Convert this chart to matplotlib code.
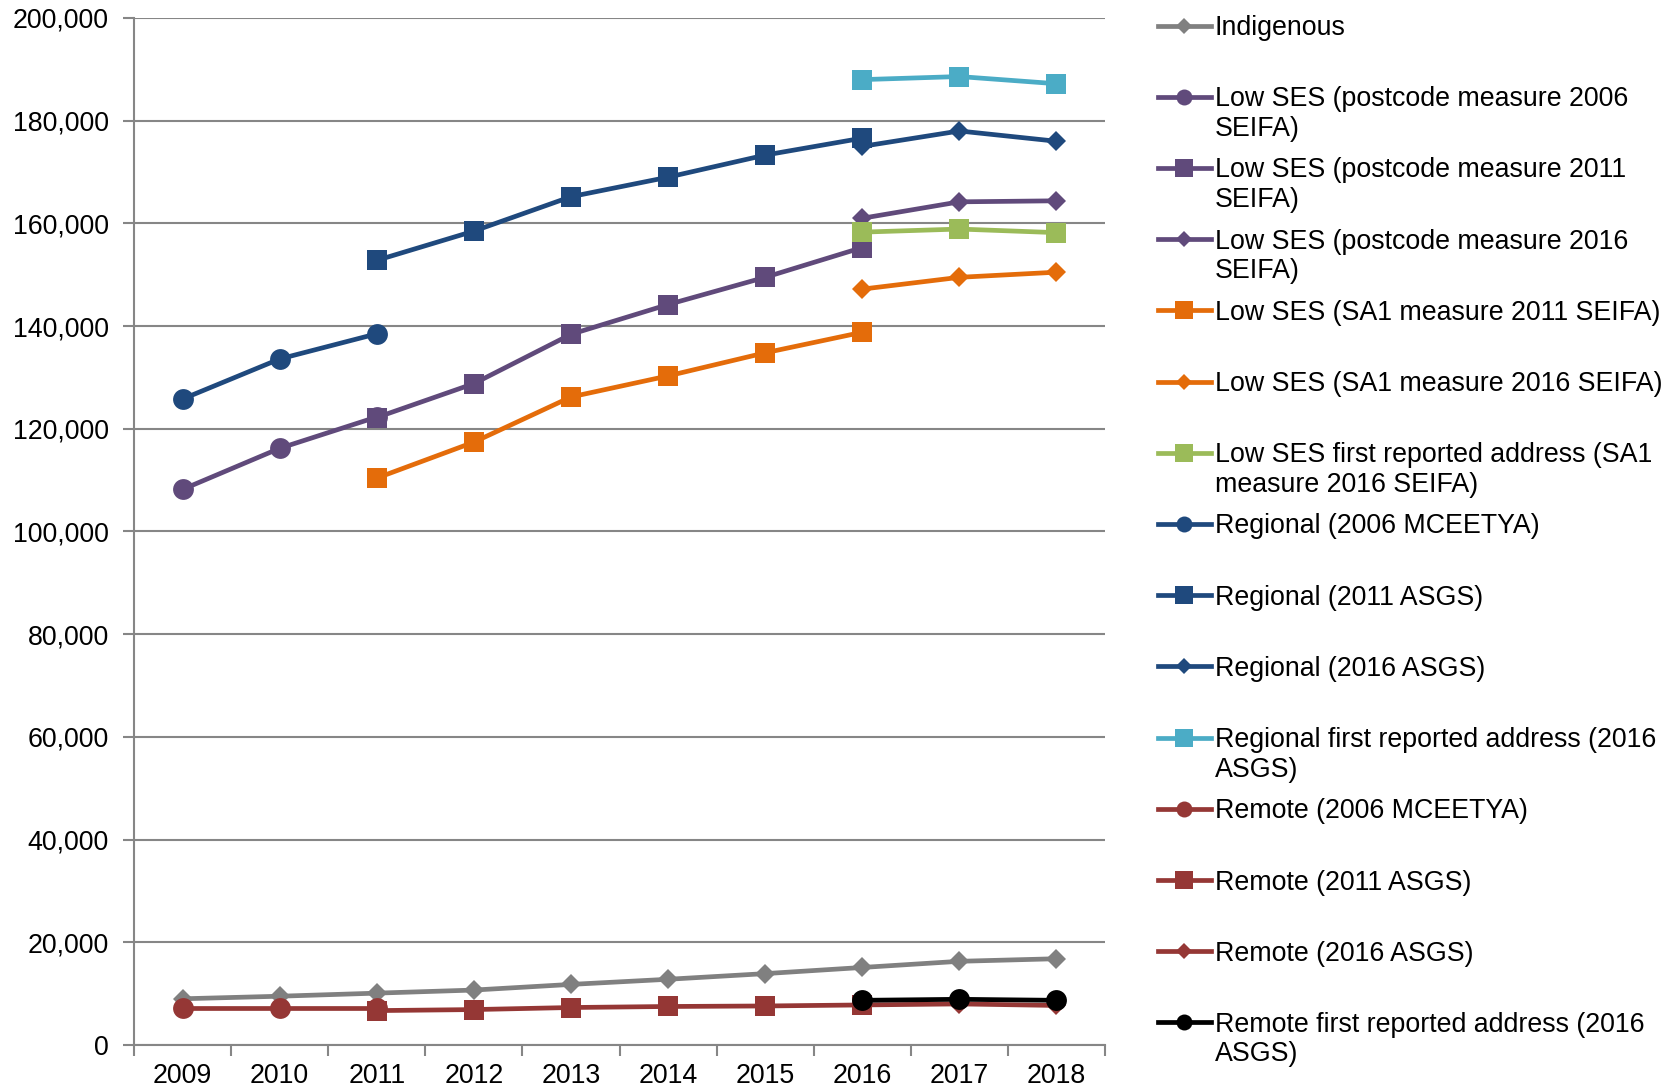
import matplotlib
matplotlib.use('Agg')
import matplotlib.pyplot as plt
from matplotlib.lines import Line2D
from matplotlib.ticker import FuncFormatter, FixedLocator
import numpy as np

plt.rcParams['font.family'] = ['Liberation Sans', 'DejaVu Sans']

years = ['2009', '2010', '2011', '2012', '2013', '2014', '2015', '2016', '2017', '2018']

# values per series, None where no data
indigenous = [9000, 9500, 10100, 10700, 11800, 12800, 13900, 15100, 16300, 16800]
lowses_pc2006 = [108200, 116200, 122300, None, None, None, None, None, None, None]
lowses_pc2011 = [None, None, 122200, 128800, 138400, 144200, 149500, 155300, None, None]
lowses_pc2016 = [None, None, None, None, None, None, None, 161000, 164200, 164400]
lowses_sa1_2011 = [None, None, 110400, 117400, 126200, 130300, 134800, 138800, None, None]
lowses_sa1_2016 = [None, None, None, None, None, None, None, 147200, 149500, 150500]
lowses_first = [None, None, None, None, None, None, None, 158300, 158900, 158200]
regional_2006 = [125800, 133600, 138500, None, None, None, None, None, None, None]
regional_2011 = [None, None, 152800, 158500, 165200, 169000, 173300, 176600, None, None]
regional_2016 = [None, None, None, None, None, None, None, 175000, 178000, 176000]
regional_first = [None, None, None, None, None, None, None, 188000, 188600, 187200]
remote_2006 = [7300, 7300, 7300, None, None, None, None, None, None, None]
remote_2011 = [None, None, 6700, 6900, 7300, 7500, 7600, 7800, None, None]
remote_2016 = [None, None, None, None, None, None, None, 7800, 8000, 7700]
remote_first = [None, None, None, None, None, None, None, 8700, 8900, 8700]

series = [
    ('Indigenous', indigenous, '#808080', 'D'),
    ('Low SES (postcode measure 2006\nSEIFA)', lowses_pc2006, '#604A7B', 'o'),
    ('Low SES (postcode measure 2011\nSEIFA)', lowses_pc2011, '#604A7B', 's'),
    ('Low SES (postcode measure 2016\nSEIFA)', lowses_pc2016, '#604A7B', 'D'),
    ('Low SES (SA1 measure 2011 SEIFA)', lowses_sa1_2011, '#E46C0A', 's'),
    ('Low SES (SA1 measure 2016 SEIFA)', lowses_sa1_2016, '#E46C0A', 'D'),
    ('Low SES first reported address (SA1\nmeasure 2016 SEIFA)', lowses_first, '#9BBB59', 's'),
    ('Regional (2006 MCEETYA)', regional_2006, '#1F497D', 'o'),
    ('Regional (2011 ASGS)', regional_2011, '#1F497D', 's'),
    ('Regional (2016 ASGS)', regional_2016, '#1F497D', 'D'),
    ('Regional first reported address (2016\nASGS)', regional_first, '#4BACC6', 's'),
    ('Remote (2006 MCEETYA)', remote_2006, '#953735', 'o'),
    ('Remote (2011 ASGS)', remote_2011, '#953735', 's'),
    ('Remote (2016 ASGS)', remote_2016, '#953735', 'D'),
    ('Remote first reported address (2016\nASGS)', remote_first, '#000000', 'o'),
]

msize = {'o': 15, 's': 14, 'D': 10.5}
leg_msize = {'o': 11.5, 's': 13, 'D': 8.5}
FS = 19.3

W, H = 1665, 1092


def fx(px):
    return px / W


def fy(py):
    return 1 - py / H


def main():
    fig = plt.figure(figsize=(W / 100, H / 100), dpi=100)
    ax = fig.add_axes([fx(134), fy(1045), fx(1105 - 134), (1045 - 18) / H])

    x = np.arange(len(years))
    for label, vals, color, mk in series:
        y = np.array([np.nan if v is None else v for v in vals], dtype=float)
        ax.plot(x, y, '-', color=color, lw=3.4, marker=mk,
                markersize=msize[mk], markeredgewidth=0, clip_on=False)

    ax.set_xlim(-0.5, len(years) - 0.5)
    ax.set_ylim(0, 200000)
    ax.set_yticks(np.arange(0, 200001, 20000))
    ax.yaxis.set_major_formatter(FuncFormatter(lambda v, p: '{:,.0f}'.format(v)))
    ax.yaxis.grid(True, color='#868686', lw=1.5)
    ax.set_axisbelow(True)

    ax.set_xticks(x)
    ax.set_xticklabels(years)
    ax.xaxis.set_minor_locator(FixedLocator(np.arange(-0.5, len(years), 1.0)))
    ax.tick_params(axis='x', which='major', length=0, pad=13, labelsize=FS)
    ax.tick_params(axis='x', which='minor', length=8, width=1.5, color='#868686')
    ax.tick_params(axis='y', length=8, width=1.5, color='#868686', pad=10,
                   labelsize=FS)

    for s in ['top', 'right']:
        ax.spines[s].set_visible(False)
    for s in ['left', 'bottom']:
        ax.spines[s].set_color('#868686')
        ax.spines[s].set_linewidth(1.5)

    # legend drawn by hand so multi-line labels sit like the original
    leg_y = [25.5, 96.7, 167.9, 239.1, 310.3, 381.5, 452.7, 523.9, 595,
             666, 737.5, 808.6, 880, 951, 1022]
    cap = FS * 100 / 72 * 0.716
    for (label, vals, color, mk), py in zip(series, leg_y):
        fig.add_artist(Line2D([fx(1158), fx(1211)], [fy(py), fy(py)],
                              transform=fig.transFigure, color=color, lw=3.4))
        fig.add_artist(Line2D([fx(1184.5)], [fy(py)], transform=fig.transFigure,
                              marker=mk, markersize=leg_msize[mk],
                              markeredgewidth=0, color=color, lw=0))
        for i, part in enumerate(label.split('\n')):
            fig.text(fx(1215), fy(py + cap / 2 + i * 29.7), part, fontsize=FS,
                     va='baseline', ha='left')

    fig.savefig('out.png', dpi=100)


if __name__ == '__main__':
    main()
